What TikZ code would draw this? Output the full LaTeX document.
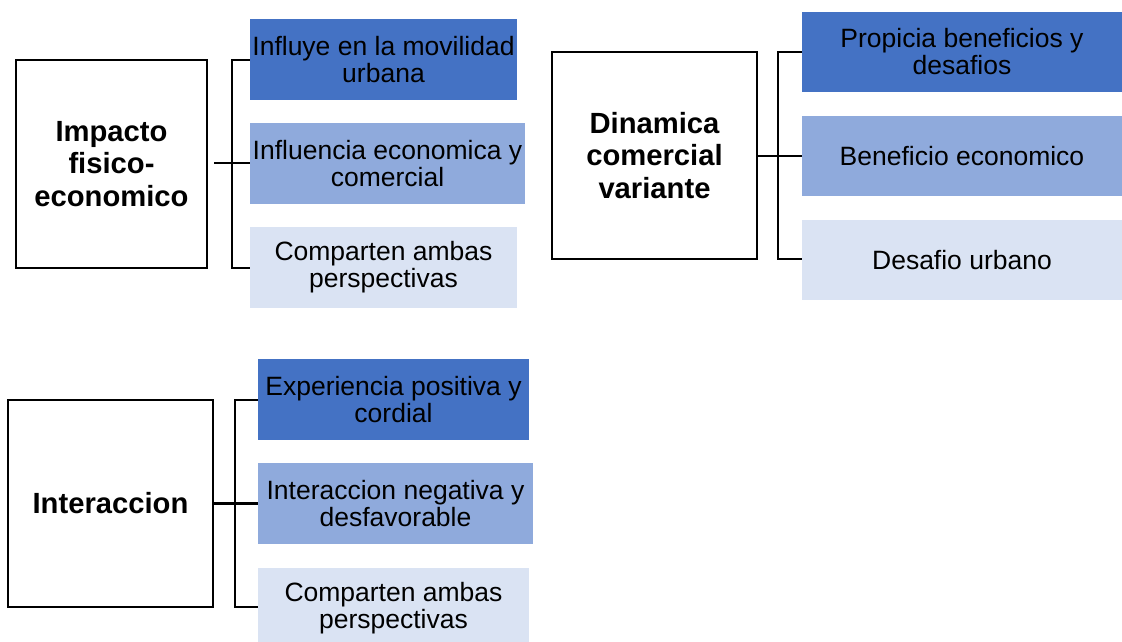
\documentclass[tikz,border=0pt]{standalone}
\usepackage{fontspec}
\setmainfont{Liberation Sans}
\definecolor{cdark}{HTML}{4472C4}
\definecolor{cmid}{HTML}{8FAADC}
\definecolor{clight}{HTML}{DAE3F3}
\begin{document}
\begin{tikzpicture}[x=1pt,y=-1pt,
  mainbox/.style={draw=black,line width=2.4pt,fill=white,inner sep=0pt,align=center,
    font=\fontsize{29.2}{32.5}\selectfont\bfseries},
  childbox/.style={inner sep=0pt,align=center,minimum height=81pt,
    font=\fontsize{26.5}{27}\selectfont},
  dk/.style={childbox,fill=cdark},
  md/.style={childbox,fill=cmid},
  lt/.style={childbox,fill=clight},
  brk/.style={line width=2.4pt}]
\useasboundingbox (0,0) rectangle (1122,641);
\begin{scope}
\clip (0,0) rectangle (1122,641);
% Group 1
\node[mainbox,minimum width=191pt,minimum height=208pt] (A) at (111.5,164) {Impacto\\fisico-\\economico};
\node[dk,minimum width=267pt] (a1) at (383.5,59.5) {Influye en la movilidad\\urbana};
\node[md,minimum width=275pt] (a2) at (387.5,163.5) {Influencia economica y\\comercial};
\node[lt,minimum width=267pt] (a3) at (383.5,267.5) {Comparten ambas\\perspectivas};
\coordinate (A1) at (232,60);
\coordinate (A3) at (232,268);
\coordinate (Am) at (214,163);
\draw[brk] (a1.west |- A1) -- (A1) -- (A3) -- (a3.west |- A3);
\draw[brk] (Am) -- (a2.west |- Am);
% Group 2
\node[mainbox,minimum width=205pt,minimum height=207pt] (B) at (654.5,155.5) {Dinamica\\comercial\\variante};
\node[dk,minimum width=320pt,minimum height=80pt] (b1) at (962,52) {Propicia beneficios y\\desafios};
\node[md,minimum width=320pt,minimum height=80pt] (b2) at (962,156) {Beneficio economico};
\node[lt,minimum width=320pt,minimum height=80pt] (b3) at (962,260) {Desafio urbano};
\coordinate (B1) at (778,52);
\coordinate (B3) at (778,259);
\draw[brk] (b1.west |- B1) -- (B1) -- (B3) -- (b3.west |- B3);
\draw[brk] (B.east |- b2.west) -- (b2.west);
% Group 3
\node[mainbox,minimum width=205pt,minimum height=207pt] (C) at (110.5,503.5) {Interaccion};
\node[dk,minimum width=271pt] (c1) at (393.5,399.5) {Experiencia positiva y\\cordial};
\node[md,minimum width=275pt] (c2) at (395.5,503.5) {Interaccion negativa y\\desfavorable};
\node[lt,minimum width=271pt] (c3) at (393.5,608.5) {Comparten ambas\\perspectivas};
\coordinate (C1) at (235,400);
\coordinate (C3) at (235,607);
\draw[brk] (c1.west |- C1) -- (C1) -- (C3) -- (c3.west |- C3);
\draw[brk] (C.east) -- (c2.west |- C.east);
\end{scope}
\end{tikzpicture}
\end{document}
